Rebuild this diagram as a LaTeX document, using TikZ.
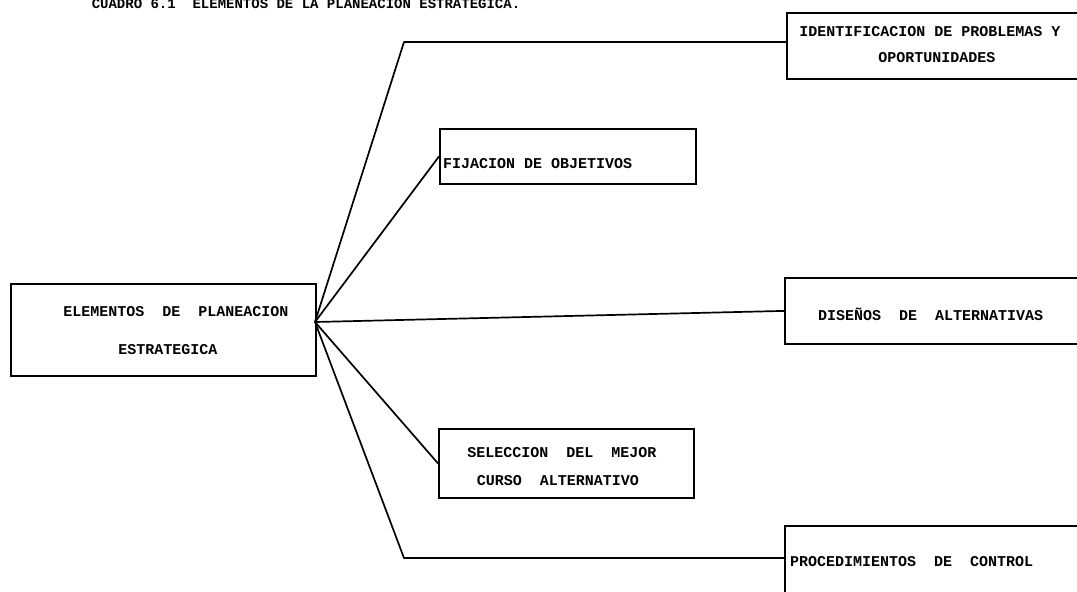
\documentclass[tikz,border=0pt]{standalone}
\usepackage{fontspec}
\newfontfamily\typer{Liberation Mono}
\begin{document}
\begin{tikzpicture}[x=1pt,y=-1pt,
  frame/.style={draw=black, line width=1.8pt, rectangle, inner sep=0pt, anchor=north west},
  wire/.style={draw=black, line width=1.7pt, line join=round},
  lbl/.style={inner sep=0pt, font=\typer\bfseries\fontsize{15}{18}\selectfont},
  ttl/.style={inner sep=0pt, font=\typer\bfseries\fontsize{14}{17}\selectfont}]
\useasboundingbox (0,0) rectangle (1077,592);
\clip (0,0) rectangle (1077,592);
\fill[white] (0,0) rectangle (1077,592);

% heading, partly cut by the page top
\node[ttl, anchor=base] (title) at (306,8) {CUADRO 6.1\ \ ELEMENTOS DE LA PLANEACION ESTRATEGICA.};

% central box
\node[frame, minimum width=305pt, minimum height=92pt] (main) at (10,283) {};
\node[lbl, anchor=base] (m1) at (176,316) {ELEMENTOS\ \ DE\ \ PLANEACION};
\node[lbl, anchor=base] (m2) at (168,354) {ESTRATEGICA};
\coordinate (hub) at (315,322);

% branch boxes
\node[frame, minimum width=320pt, minimum height=66pt] (b1) at (786,12) {};
\node[lbl, anchor=base] (t1a) at (930,36) {IDENTIFICACION DE PROBLEMAS Y};
\node[lbl, anchor=base] (t1b) at (937,62) {OPORTUNIDADES};

\node[frame, minimum width=256pt, minimum height=55pt] (b2) at (439,128) {};
\node[lbl, anchor=base west] (t2) at (443,168) {FIJACION DE OBJETIVOS};

\node[frame, minimum width=320pt, minimum height=66pt] (b3) at (784,277) {};
\node[lbl, anchor=base west] (t3) at (818,320) {DISEÑOS\ \ DE\ \ ALTERNATIVAS};

\node[frame, minimum width=255pt, minimum height=69pt] (b4) at (438,428) {};
\node[lbl, anchor=base] (t4a) at (562,457) {SELECCION\ \ DEL\ \ MEJOR};
\node[lbl, anchor=base] (t4b) at (558,485) {CURSO\ \ ALTERNATIVO};

\node[frame, minimum width=320pt, minimum height=90pt] (b5) at (784,525) {};
\node[lbl, anchor=base west] (t5) at (790,566) {PROCEDIMIENTOS\ \ DE\ \ CONTROL};

% connectors from the central box
\coordinate (k1) at (404,42);
\coordinate (k5) at (404,558);
\draw[wire] (hub) -- (k1) -- (k1 -| b1.west);
\draw[wire] (hub) -- (b2.west);
\draw[wire] (hub) -- (b3.west);
\draw[wire] (hub) -- (b4.west);
\draw[wire] (hub) -- (k5) -- (k5 -| b5.west);
\end{tikzpicture}
\end{document}
